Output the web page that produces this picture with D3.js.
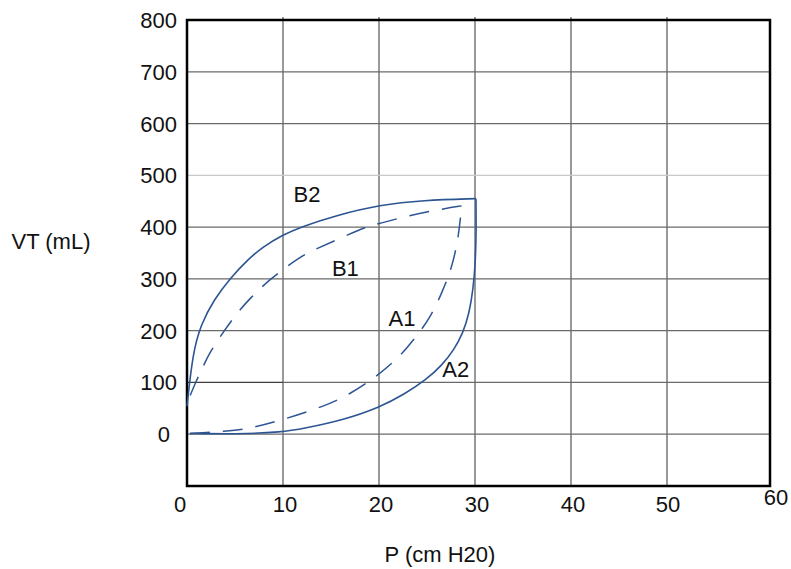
<!DOCTYPE html>
<html>
<head>
<meta charset="utf-8">
<script src="https://cdn.jsdelivr.net/npm/d3@7"></script>
<style>
  html, body { margin: 0; padding: 0; background: #fff; }
  svg text { font-family: "Liberation Sans", Arial, Helvetica, sans-serif; fill: #111; }
</style>
</head>
<body>
<svg id="chart" width="791" height="569"></svg>
<script>
// ---- data ----
const xTicks = [0, 10, 20, 30, 40, 50, 60];
const yTicks = [0, 100, 200, 300, 400, 500, 600, 700, 800];

// A2: solid inflation limb (P cm H2O, VT mL)
const a2P = [0.3, 5, 10, 12.1, 16.2, 20.1, 22.7, 24.9, 26.6, 27.8, 28.75, 29.4, 29.8, 30.05, 30.13, 30.1];
const a2V = [2, 0, 4, 11, 27, 52, 78, 105, 134, 163, 195, 234, 279, 333, 394, 455];
// B2: solid deflation limb
const b2P = [30.1, 24.6, 20.1, 15.6, 11.8, 10, 7.9, 6.2, 4.5, 2.8, 1.45, 0.6, 0];
const b2V = [455, 452, 443, 423, 400, 385, 362, 335, 301, 260, 212, 157, 54];
// A1: dashed inflation limb
const a1P = [0.3, 4, 5.8, 9.5, 14.5, 17, 19.5, 22.2, 23.9, 25.4, 26.6, 27.6, 28.3, 28.6];
const a1V = [1, 6, 8, 25, 55, 78, 108, 150, 189, 227, 275, 322, 381, 441];
// B1: dashed deflation limb
const b1P = [28.6, 26.9, 23.2, 20.1, 18.7, 15.9, 13.2, 11.8, 8.5, 6.4, 5.5, 4.7, 3.8, 2.3, 1.7, 1, 0];
const b1V = [441, 436, 423, 407, 401, 378, 356, 343, 298, 259, 240, 221, 198, 156, 131, 105, 60];

const curveLabels = ["B2", "B1", "A1", "A2"];
const curveLabelP = [12.5, 16.5, 22.4, 28];
const curveLabelV = [448, 305, 209, 110];

// ---- layout ----
const svg = d3.select("#chart");
const x = d3.scaleLinear().domain([0, 60]).range([187, 763]);
const y = d3.scaleLinear().domain([-100, 800]).range([486, 20]);
const frameRight = 770;
const blue = "#2c5592";
const fs = 22;

// grid
svg.append("g").selectAll("line").data(xTicks.slice(1, -1)).join("line")
  .attr("x1", d => x(d)).attr("x2", d => x(d))
  .attr("y1", y(800) - 3).attr("y2", y(-100))
  .attr("stroke", "#555").attr("stroke-width", 1.2);
svg.append("g").selectAll("line").data(yTicks.slice(0, -1)).join("line")
  .attr("x1", x(0)).attr("x2", frameRight)
  .attr("y1", d => y(d)).attr("y2", d => y(d))
  .attr("stroke", d => d === 500 ? "#c8c8c8" : "#6a6a6a").attr("stroke-width", 1.2);
// slightly darker stub on the 100 line (as drawn in the source)
svg.append("line")
  .attr("x1", x(0)).attr("x2", x(10)).attr("y1", y(100)).attr("y2", y(100))
  .attr("stroke", "#3a3a3a").attr("stroke-width", 1);

// frame
svg.append("rect")
  .attr("x", x(0)).attr("y", y(800))
  .attr("width", frameRight - x(0)).attr("height", y(-100) - y(800))
  .attr("fill", "none").attr("stroke", "#000").attr("stroke-width", 2.5);

// curves
const line = d3.line()
  .x(d => x(d[0])).y(d => y(d[1]))
  .curve(d3.curveBasis);
const zip = (p, v) => p.map((d, i) => [d, v[i]]);

svg.append("path").datum(zip(a2P, a2V)).attr("d", line)
  .attr("fill", "none").attr("stroke", blue).attr("stroke-width", 1.6);
svg.append("path").datum(zip(b2P, b2V)).attr("d", line)
  .attr("fill", "none").attr("stroke", blue).attr("stroke-width", 1.6);
svg.append("path").datum(zip(a1P, a1V)).attr("d", line)
  .attr("fill", "none").attr("stroke", blue).attr("stroke-width", 1.5)
  .attr("stroke-dasharray", "20,13");
svg.append("path").datum(zip(b1P, b1V)).attr("d", line)
  .attr("fill", "none").attr("stroke", blue).attr("stroke-width", 1.5)
  .attr("stroke-dasharray", "20,13");

// curve labels
svg.append("g").selectAll("text").data(curveLabels).join("text")
  .attr("x", (d, i) => x(curveLabelP[i]))
  .attr("y", (d, i) => y(curveLabelV[i]))
  .attr("text-anchor", "middle")
  .attr("font-size", fs)
  .text(d => d);

// tick labels
svg.append("g").selectAll("text").data(xTicks).join("text")
  .attr("x", d => d === 60 ? frameRight + 6 : x(d) + (d === 0 ? -7 : d === 50 ? 1 : 2))
  .attr("y", d => d === 60 ? 505 : 512)
  .attr("text-anchor", "middle")
  .attr("font-size", fs)
  .text(d => d);
svg.append("g").selectAll("text").data(yTicks).join("text")
  .attr("x", d => d === 0 ? 170 : 177)
  .attr("y", d => y(d) + 8)
  .attr("text-anchor", "end")
  .attr("font-size", fs)
  .text(d => d);

// axis titles
svg.append("text").attr("x", 51).attr("y", 249)
  .attr("text-anchor", "middle").attr("font-size", fs).text("VT (mL)");
svg.append("text").attr("x", 440).attr("y", 562)
  .attr("text-anchor", "middle").attr("font-size", fs).text("P (cm H20)");
</script>
</body>
</html>
